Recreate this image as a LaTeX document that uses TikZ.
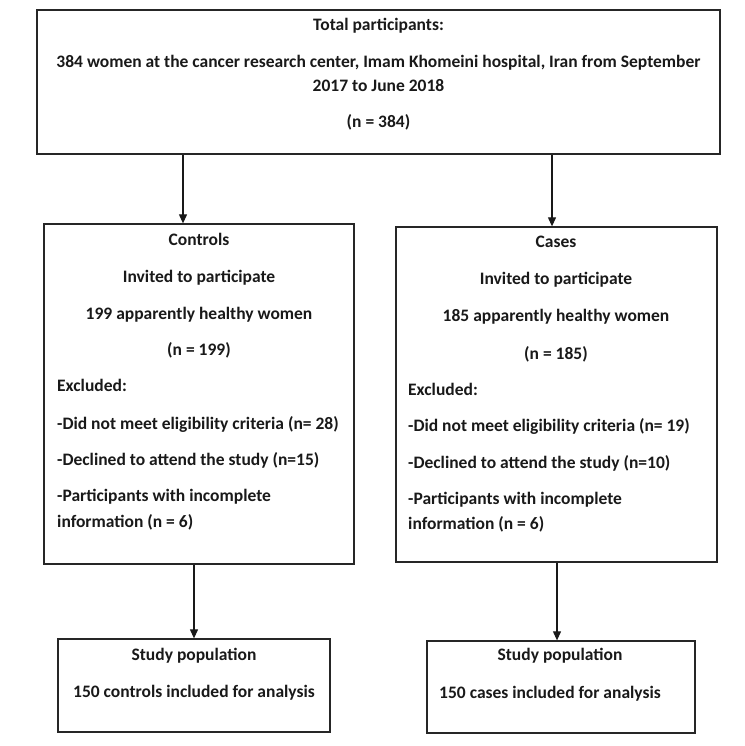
\documentclass[tikz,border=0pt]{standalone}
\usepackage{fontspec}
\setmainfont{Carlito}
\usetikzlibrary{arrows.meta}
\begin{document}
\begin{tikzpicture}[x=1pt,y=-1pt,
  box/.style={draw=black!85, line width=1.3pt, inner sep=0pt},
  txt/.style={font=\bfseries\fontsize{17.5}{20}\selectfont, inner sep=0pt, anchor=mid, text=black!90},
  ltxt/.style={txt, anchor=mid west},
  arr/.style={draw=black!90, line width=1.1pt, -{Triangle[length=9pt,width=8pt]}}]
\useasboundingbox[fill=white] (0,0) rectangle (744,746);
% boxes
\node[box, minimum width=683, minimum height=144] (top) at (378.5,82) {};
\node[box, minimum width=310, minimum height=340] (ctrl) at (199,394) {};
\node[box, minimum width=321, minimum height=335] (cases) at (556.5,394.5) {};
\node[box, minimum width=272, minimum height=93] (studyL) at (194,685.5) {};
\node[box, minimum width=268, minimum height=92] (studyR) at (561,687) {};
% top texts
\node[txt] (t1) at (378.5,28) {Total participants:};
\node[txt] (t2) at (378.5,65) {384 women at the cancer research center, Imam Khomeini hospital, Iran from September};
\node[txt] (t3) at (378.5,89) {2017 to June 2018};
\node[txt] (t4) at (378.5,125) {(n = 384)};
% controls
\node[txt] (c1) at (199,243) {Controls};
\node[txt] (c2) at (199,280) {Invited to participate};
\node[txt] (c3) at (199,317) {199 apparently healthy women};
\node[txt] (c4) at (199,353) {(n = 199)};
\node[ltxt] (c5) at (57,389) {Excluded:};
\node[ltxt] (c6) at (57,427) {-Did not meet eligibility criteria (n= 28)};
\node[ltxt] (c7) at (57,463) {-Declined to attend the study (n=15)};
\node[ltxt] (c8) at (57,499) {-Participants with incomplete};
\node[ltxt] (c9) at (57,525) {information (n = 6)};
% cases
\node[txt] (k1) at (556,245) {Cases};
\node[txt] (k2) at (556,282) {Invited to participate};
\node[txt] (k3) at (556,319) {185 apparently healthy women};
\node[txt] (k4) at (556,357) {(n = 185)};
\node[ltxt] (k5) at (408,393) {Excluded:};
\node[ltxt] (k6) at (408,429) {-Did not meet eligibility criteria (n= 19)};
\node[ltxt] (k7) at (408,466) {-Declined to attend the study (n=10)};
\node[ltxt] (k8) at (408,502) {-Participants with incomplete};
\node[ltxt] (k9) at (408,527) {information (n = 6)};
% study
\node[txt] (s1) at (194,658) {Study population};
\node[txt] (s2) at (194,695) {150 controls included for analysis};
\node[txt] (r1) at (560,658) {Study population};
\node[ltxt] (r2) at (439,696) {150 cases included for analysis};
% arrows
\coordinate (a1) at (183,0);
\coordinate (a2) at (552,0);
\coordinate (a3) at (194,0);
\coordinate (a4) at (557,0);
\draw[arr] (a1 |- top.south) -- (a1 |- ctrl.north);
\draw[arr] (a2 |- top.south) -- (a2 |- cases.north);
\draw[arr] (a3 |- ctrl.south) -- (a3 |- studyL.north);
\draw[arr] (a4 |- cases.south) -- (a4 |- studyR.north);
\end{tikzpicture}
\end{document}
